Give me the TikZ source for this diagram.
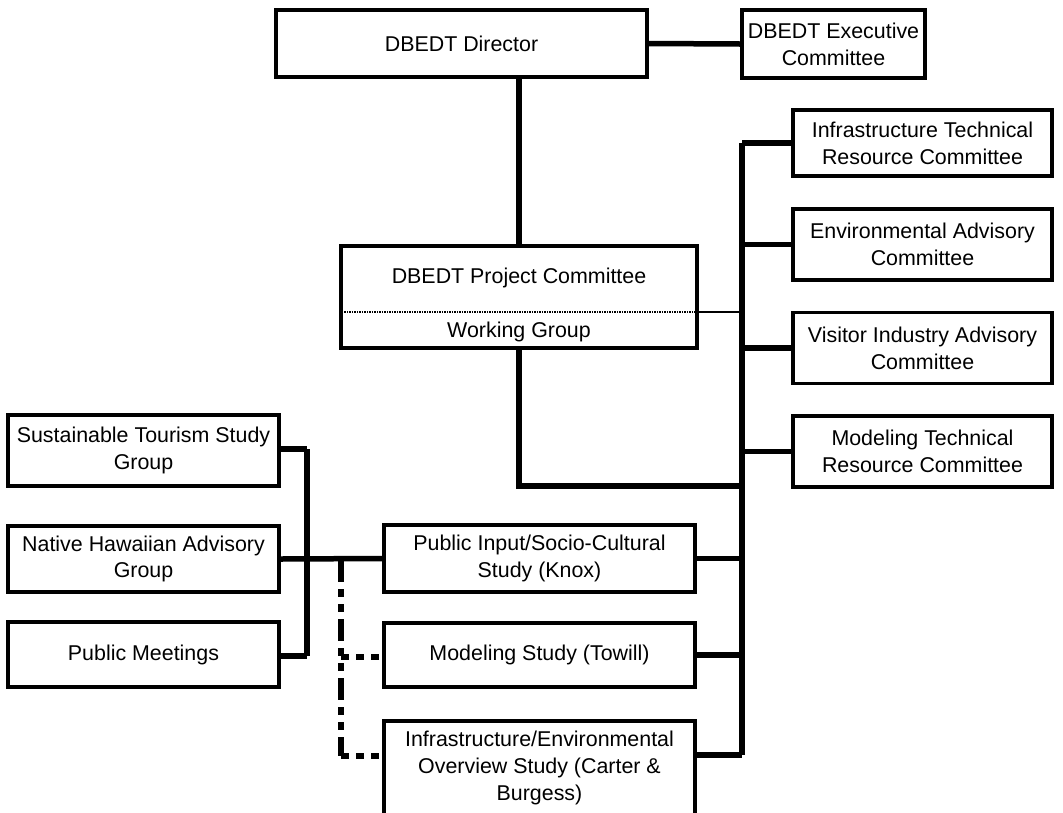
\documentclass[tikz,border=0pt]{standalone}
\usepackage{fontspec}
\setmainfont{Liberation Sans}
\begin{document}
\begin{tikzpicture}[x=1pt,y=-1pt,
  box/.style={draw,line width=3.5pt,inner sep=0pt,align=center,fill=white,
    font=\fontsize{21.4}{26.7}\selectfont},
  txt/.style={inner sep=0pt,align=center,font=\fontsize{21.4}{26.7}\selectfont},
  thickline/.style={line width=5.5pt},
  thinline/.style={line width=2.2pt},
  dotline/.style={line width=1.5pt,dash pattern=on 1.5pt off 1pt},
  dashdotline/.style={line width=6pt,dash pattern=on 22pt off 7pt on 8pt off 7pt on 8pt off 7pt},
  dashline/.style={line width=5.5pt,dash pattern=on 8pt off 7pt}]
\fill[white] (0,0) rectangle (1063,812);
\clip (0,0) rectangle (1063,812);
% coordinates
\coordinate (spt) at (742,143);
\coordinate (spb) at (742,755);
\coordinate (sp1) at (742,486);
\coordinate (pd) at (341,312);
\coordinate (lt) at (307,449);
\coordinate (lb) at (307,656);
\coordinate (dt) at (341,560);
\coordinate (dm) at (341,657);
\coordinate (db) at (341,756);
% connectors (behind boxes)
\draw[thickline] (spt) -- (spb);
\draw[thickline] (lt) -- (lb);
\draw[dashdotline] (dt) -- (db);
% nodes
\node[box,minimum width=371,minimum height=67] (dir) at (461.5,43.5) {DBEDT Director};
\node[box,minimum width=183,minimum height=68] (exec) at (833.5,44) {DBEDT Executive\\Committee};
\node[box,minimum width=356,minimum height=102] (proj) at (519,297) {};
\node[txt] (projt) at (519,278) {DBEDT Project Committee};
\node[txt] (wg) at (519,332) {Working Group};
\node[box,minimum width=259,minimum height=66] (itr) at (922.5,143) {Infrastructure Technical\\Resource Committee};
\node[box,minimum width=259,minimum height=71] (env) at (922.5,244.5) {Environmental Advisory\\Committee};
\node[box,minimum width=259,minimum height=71] (vis) at (922.5,348) {Visitor Industry Advisory\\Committee};
\node[box,minimum width=259,minimum height=71] (mtr) at (922.5,451.5) {Modeling Technical\\Resource Committee};
\node[box,minimum width=271,minimum height=71] (sust) at (143.5,450.5) {Sustainable Tourism Study\\Group};
\node[box,minimum width=271,minimum height=66] (nat) at (143.5,559) {Native Hawaiian Advisory\\Group};
\node[box,minimum width=271,minimum height=65] (pub) at (143.5,654.5) {Public Meetings};
\node[box,minimum width=311,minimum height=67] (pi) at (539.5,558.5) {Public Input/Socio-Cultural\\Study (Knox)};
\node[box,minimum width=311,minimum height=64] (ms) at (539.5,655) {Modeling Study (Towill)};
\node[box,minimum width=311,minimum height=94] (ie) at (539.5,768) {Infrastructure/Environmental\\Overview Study (Carter \&\\Burgess)};
% connectors
\draw[thickline] (dir.east) -- (exec.west);
\draw[thickline] (proj.north) -- (proj.north |- dir.south);
\draw[thickline] (proj.south) |- (sp1);
\draw[dotline] (proj.west |- pd) -- (proj.east |- pd);
\draw[thinline] (proj.east |- pd) -- (pd -| spt);
\draw[thickline] (itr.west) -- (itr.west -| spt);
\draw[thickline] (env.west) -- (env.west -| spt);
\draw[thickline] (vis.west) -- (vis.west -| spt);
\draw[thickline] (mtr.west) -- (mtr.west -| spt);
\draw[thickline] (pi.east) -- (pi.east -| spt);
\draw[thickline] (ms.east) -- (ms.east -| spt);
\draw[thickline] (ie.east |- spb) -- (spb);
\draw[thickline] (sust.east |- lt) -- (lt);
\draw[thickline] (pub.east |- lb) -- (lb);
\draw[thickline] (nat.east) -- (pi.west);
\draw[dashline] (dm) -- (ms.west |- dm);
\draw[dashline] (db) -- (ie.west |- db);
\end{tikzpicture}
\end{document}
